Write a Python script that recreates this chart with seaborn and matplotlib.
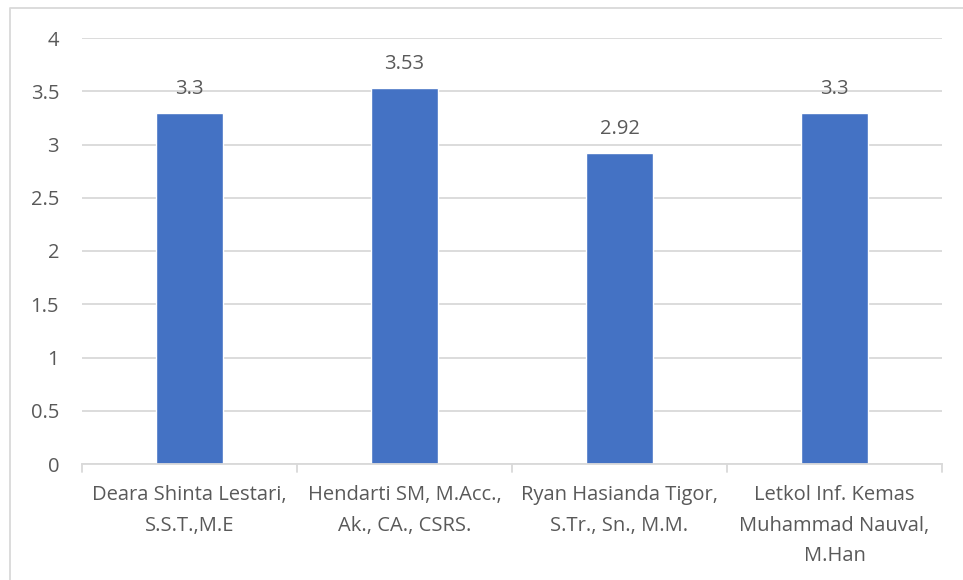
import matplotlib
matplotlib.use("Agg")
import matplotlib.pyplot as plt
import seaborn as sns
import pandas as pd
from matplotlib.lines import Line2D

categories = [
    "Deara Shinta Lestari,\nS.S.T.,M.E",
    "Hendarti SM, M.Acc.,\nAk., CA., CSRS.",
    "Ryan Hasianda Tigor,\nS.Tr., Sn., M.M.",
    "Letkol Inf. Kemas\nMuhammad Nauval,\nM.Han",
]
values = [3.3, 3.53, 2.92, 3.3]
value_labels = ["3.3", "3.53", "2.92", "3.3"]
yticks = [0, 0.5, 1, 1.5, 2, 2.5, 3, 3.5, 4]
ytick_labels = ["0", "0.5", "1", "1.5", "2", "2.5", "3", "3.5", "4"]

sns.set_theme(style="white")
plt.rcParams["font.family"] = ["Open Sans", "DejaVu Sans"]

W, H = 963, 580
fig = plt.figure(figsize=(W / 100, H / 100), dpi=100)
ax = fig.add_axes([82 / W, (H - 464) / H, (942 - 82) / W, (464 - 38) / H])

df = pd.DataFrame({"cat": categories, "val": values})
sns.barplot(data=df, x="cat", y="val", color="#4472C4", saturation=1,
            width=0.31, ax=ax, zorder=3)

FS = 14.5
ax.set_ylim(0, 4)
ax.set_xlim(-0.5, len(categories) - 0.5)
ax.set_yticks(yticks)
ax.set_yticklabels(ytick_labels)
ax.set_xlabel("")
ax.set_ylabel("")
ax.yaxis.grid(True, color="#D9D9D9", linewidth=1.3, zorder=0)
ax.set_axisbelow(True)
for s in ["top", "right", "left"]:
    ax.spines[s].set_visible(False)
ax.spines["bottom"].set_color("#D9D9D9")
ax.spines["bottom"].set_linewidth(1.3)
ax.spines["bottom"].set_zorder(4)

ax.tick_params(axis="y", length=0, pad=16.5, labelsize=FS, labelcolor="#595959")
ax.tick_params(axis="x", length=0, pad=15, labelsize=FS, labelcolor="#595959")
for t in ax.get_xticklabels():
    t.set_linespacing(1.72)

# category boundary tick marks
for b in [i - 0.5 for i in range(len(categories) + 1)]:
    ax.plot([b, b], [0, -0.075], color="#D9D9D9", lw=1.3, clip_on=False, zorder=4)

for i, (v, lab) in enumerate(zip(values, value_labels)):
    ax.annotate(lab, (i, v), xytext=(0, 10), textcoords="offset points",
                ha="center", va="bottom", fontsize=FS, color="#595959")

# chart border (left and top)
fig.add_artist(Line2D([10 / W, 10 / W, 1.0], [0.0, 1 - 8 / H, 1 - 8 / H],
                      color="#D9D9D9", lw=1.3, transform=fig.transFigure))

fig.savefig("out.png", dpi=100, facecolor="white")
